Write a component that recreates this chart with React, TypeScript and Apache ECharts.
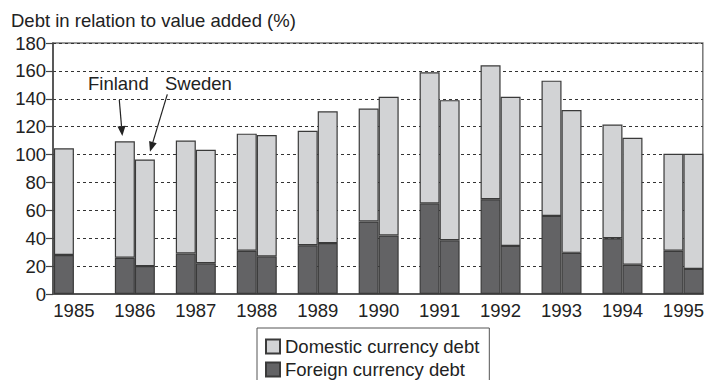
import React, { useEffect, useRef } from "react";
import * as echarts from "echarts";

const years = [1985, 1986, 1987, 1988, 1989, 1990, 1991, 1992, 1993, 1994, 1995];
const finlandForeign = [28, 26, 29, 31, 35, 52, 65, 68, 56, 40, 31];
const finlandDomestic = [76.5, 83.5, 81, 84, 82, 81, 94, 96, 97, 81.5, 69.5];
const swedenForeign: (number | null)[] = [null, 20, 22, 27, 36.5, 42, 38.5, 34.5, 29.5, 21, 18];
const swedenDomestic: (number | null)[] = [null, 76.5, 81.5, 87, 94.5, 99.5, 100.5, 107, 102.5, 91, 82.5];

const FONT = "'Liberation Sans', Arial, Helvetica, sans-serif";
const FS = 18.5;
const LIGHT = "#d2d3d5";
const DARK = "#636365";
const EDGE = "#3a3a3a";

// value first, year second (encoded as x) so the stack applies to the value dimension
function rows(vals: (number | null)[]) {
  return years.map((y, i) => [vals[i] == null ? "-" : vals[i], y]);
}

export default function App() {
  const ref = useRef<HTMLDivElement>(null);
  useEffect(() => {
    document.body.style.margin = "0";
    const chart = echarts.init(ref.current!, null, { renderer: "svg" });
    const barCommon = {
      type: "bar",
      barWidth: 20,
      barGap: "0%",
      clip: false,
      encode: { x: 1, y: 0 },
    };
    const edge = { borderColor: EDGE, borderWidth: 1.2 };
    chart.setOption({
      animation: false,
      textStyle: { fontFamily: FONT },
      title: {
        text: "Debt in relation to value added (%)",
        left: 11,
        top: 11,
        padding: 0,
        textStyle: { fontFamily: FONT, fontSize: FS, fontWeight: "normal", color: "#222" },
      },
      grid: {
        left: 53,
        right: 1,
        top: 43,
        bottom: 86,
        show: true,
        borderColor: "#777",
        borderWidth: 1.5,
      },
      legend: {
        data: ["Domestic currency debt", "Foreign currency debt"],
        orient: "vertical",
        left: 257,
        top: 328,
        height: 80,
        icon: "rect",
        itemWidth: 14,
        itemHeight: 14,
        itemGap: 4,
        borderColor: "#555",
        borderWidth: 1,
        padding: [9, 10, 30, 8],
        textStyle: { fontFamily: FONT, fontSize: FS, color: "#222" },
      },
      xAxis: {
        type: "value",
        min: 1984.657,
        max: 1995.318,
        splitLine: { show: false },
        axisTick: { show: false },
        axisLine: { show: true, onZero: false, lineStyle: { color: "#555", width: 2 } },
        axisLabel: {
          customValues: years,
          formatter: (v: number) => String(Math.round(v)),
          fontFamily: FONT,
          fontSize: FS,
          color: "#222",
          margin: 7,
          hideOverlap: false,
        },
      },
      yAxis: {
        type: "value",
        min: 0,
        max: 180,
        interval: 20,
        axisLine: { show: true, lineStyle: { color: "#444", width: 1.5 } },
        axisTick: { show: true, length: 7, lineStyle: { color: "#444", width: 1.2 } },
        axisLabel: { fontFamily: FONT, fontSize: FS, color: "#222", margin: 7 },
        splitLine: { show: true, lineStyle: { color: "#333", width: 1, type: [3, 3] } },
      },
      series: [
        { ...barCommon, name: "Foreign currency debt", stack: "fin", data: rows(finlandForeign), itemStyle: { ...edge, color: DARK } },
        { ...barCommon, name: "Domestic currency debt", stack: "fin", data: rows(finlandDomestic), itemStyle: { ...edge, color: LIGHT } },
        { ...barCommon, name: "Foreign currency debt", stack: "swe", data: rows(swedenForeign), itemStyle: { ...edge, color: DARK } },
        { ...barCommon, name: "Domestic currency debt", stack: "swe", data: rows(swedenDomestic), itemStyle: { ...edge, color: LIGHT } },
      ],
      graphic: [
        { type: "text", left: 88, top: 74, style: { text: "Finland", fontFamily: FONT, fontSize: FS, fill: "#222" } },
        { type: "text", left: 165, top: 74, style: { text: "Sweden", fontFamily: FONT, fontSize: FS, fill: "#222" } },
        { type: "line", shape: { x1: 119.3, y1: 100, x2: 121.5, y2: 126 }, style: { stroke: "#222", lineWidth: 1.2 } },
        { type: "polygon", shape: { points: [[122.3, 136], [125.5, 125.7], [117.5, 126.4]] }, style: { fill: "#222" } },
        { type: "line", shape: { x1: 167.3, y1: 94.3, x2: 152.9, y2: 142.1 }, style: { stroke: "#222", lineWidth: 1.2 } },
        { type: "polygon", shape: { points: [[150, 151.7], [156.7, 143.3], [149.1, 141]] }, style: { fill: "#222" } },
      ],
    });
    return () => chart.dispose();
  }, []);
  return <div ref={ref} style={{ width: 707, height: 380 }} />;
}
